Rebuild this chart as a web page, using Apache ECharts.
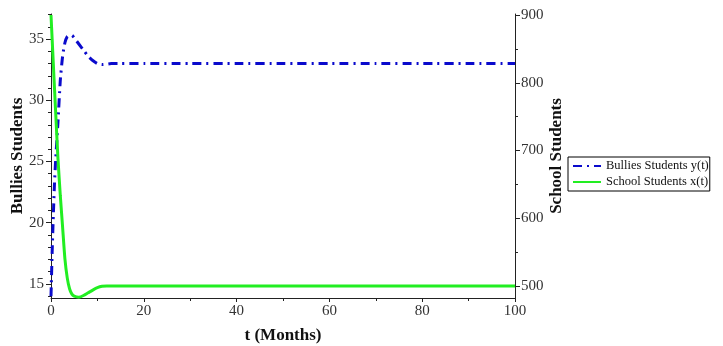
<!DOCTYPE html>
<html>
<head>
<meta charset="utf-8">
<script src="https://cdn.jsdelivr.net/npm/echarts@6/dist/echarts.min.js"></script>
<style>
  html, body { margin: 0; padding: 0; background: #fff; }
  #chart { width: 723px; height: 346px; }
</style>
</head>
<body>
<div id="chart"></div>
<script>
// time in months
const tMonths = [0, 0.25, 0.5, 0.75, 1, 1.5, 2, 2.5, 3, 3.5, 4, 4.5, 5, 6, 7, 8, 9, 10, 11, 12, 13, 15, 20, 30, 40, 50, 60, 70, 80, 90, 100];
// bullies students y(t), left axis
const bullies = [14.0, 17.6, 20.6, 23.2, 25.1, 28.2, 31.6, 33.6, 34.7, 35.2, 35.3, 35.3, 35.1, 34.6, 34.1, 33.6, 33.25, 33.0, 32.92, 32.95, 33.0, 33.0, 33.0, 33.0, 33.0, 33.0, 33.0, 33.0, 33.0, 33.0, 33.0];
// school students x(t), right axis
const school = [900, 864, 828, 792, 757, 688, 634, 587, 540, 512, 496, 488, 485, 483.5, 486, 490, 494, 497.5, 499.5, 500, 500, 500, 500, 500, 500, 500, 500, 500, 500, 500, 500];

const leftTicks = [15, 20, 25, 30, 35];
const leftMinor = [14, 16, 17, 18, 19, 21, 22, 23, 24, 26, 27, 28, 29, 31, 32, 33, 34, 36, 37];
const rightTicks = [500, 600, 700, 800, 900];
const rightMinor = [550, 650, 750, 850];

const font = 'Liberation Serif';
const axisColor = '#222';

let myChart = echarts.init(document.getElementById('chart'));

const minorAxis = (pos, min, max, vals) => ({
    type: 'value',
    position: pos,
    min: min,
    max: max,
    axisLine: {show: false},
    axisLabel: {show: false},
    splitLine: {show: false},
    axisTick: {show: true, length: 3, customValues: vals, lineStyle: {color: axisColor}}
});

let option = {
    backgroundColor: '#fff',
    animation: false,
    grid: {
        left: 51,
        right: 208,
        top: 14,
        bottom: 48,
        outerBoundsMode: 'none'
    },
    legend: {
        orient: 'vertical',
        left: 568,
        top: 157,
        padding: [2, 1, 2, 4],
        itemGap: 2,
        itemWidth: 28,
        itemHeight: 10,
        borderColor: '#000',
        borderWidth: 1,
        itemStyle: {opacity: 0},
        textStyle: {fontFamily: font, fontSize: 12.5, lineHeight: 14, color: '#111'},
        data: ['Bullies Students y(t)', 'School Students x(t)']
    },
    xAxis: {
        type: 'value',
        min: 0,
        max: 100,
        interval: 20,
        name: 't (Months)',
        nameLocation: 'middle',
        nameGap: 29,
        nameMoveOverlap: false,
        nameTextStyle: {fontFamily: font, fontSize: 17, fontWeight: 'bold', color: '#111'},
        axisLine: {lineStyle: {color: axisColor}},
        axisTick: {length: 4, lineStyle: {color: axisColor}},
        minorTick: {show: true, splitNumber: 2, length: 3, lineStyle: {color: axisColor}},
        splitLine: {show: false},
        axisLabel: {fontFamily: font, fontSize: 15, color: '#333', margin: 6}
    },
    yAxis: [
        {
            type: 'value',
            position: 'left',
            min: 13.85,
            max: 37.05,
            name: 'Bullies Students',
            nameLocation: 'middle',
            nameRotate: 90,
            nameGap: 25,
            nameMoveOverlap: false,
            nameTextStyle: {fontFamily: font, fontSize: 17, fontWeight: 'bold', color: '#111'},
            axisLine: {show: true, lineStyle: {color: axisColor}},
            axisTick: {show: true, length: 5, customValues: leftTicks, lineStyle: {color: axisColor}},
            axisLabel: {customValues: leftTicks, fontFamily: font, fontSize: 15, color: '#333', margin: 7},
            splitLine: {show: false}
        },
        {
            type: 'value',
            position: 'right',
            min: 482.3,
            max: 901.5,
            name: 'School Students',
            nameLocation: 'middle',
            nameRotate: 90,
            nameGap: 33,
            nameMoveOverlap: false,
            nameTextStyle: {fontFamily: font, fontSize: 17, fontWeight: 'bold', color: '#111'},
            axisLine: {show: true, lineStyle: {color: axisColor}},
            axisTick: {show: true, length: 5, customValues: rightTicks, lineStyle: {color: axisColor}},
            axisLabel: {customValues: rightTicks, fontFamily: font, fontSize: 15, color: '#333', margin: 6},
            splitLine: {show: false}
        },
        minorAxis('left', 13.85, 37.05, leftMinor),
        minorAxis('right', 482.3, 901.5, rightMinor)
    ],
    series: [
        {
            name: 'Bullies Students y(t)',
            type: 'line',
            yAxisIndex: 0,
            showSymbol: false,
            symbol: 'none',
            smooth: 0.2,
            lineStyle: {color: '#0a0acc', width: 3, type: [9, 5, 2, 5]},
            itemStyle: {color: '#0a0acc'},
            data: tMonths.map((t, i) => [t, bullies[i]])
        },
        {
            name: 'School Students x(t)',
            type: 'line',
            yAxisIndex: 1,
            showSymbol: false,
            symbol: 'none',
            smooth: 0.2,
            lineStyle: {color: '#22ee22', width: 3},
            itemStyle: {color: '#22ee22'},
            data: tMonths.map((t, i) => [t, school[i]])
        }
    ]
};
option && myChart.setOption(option);
</script>
</body>
</html>
